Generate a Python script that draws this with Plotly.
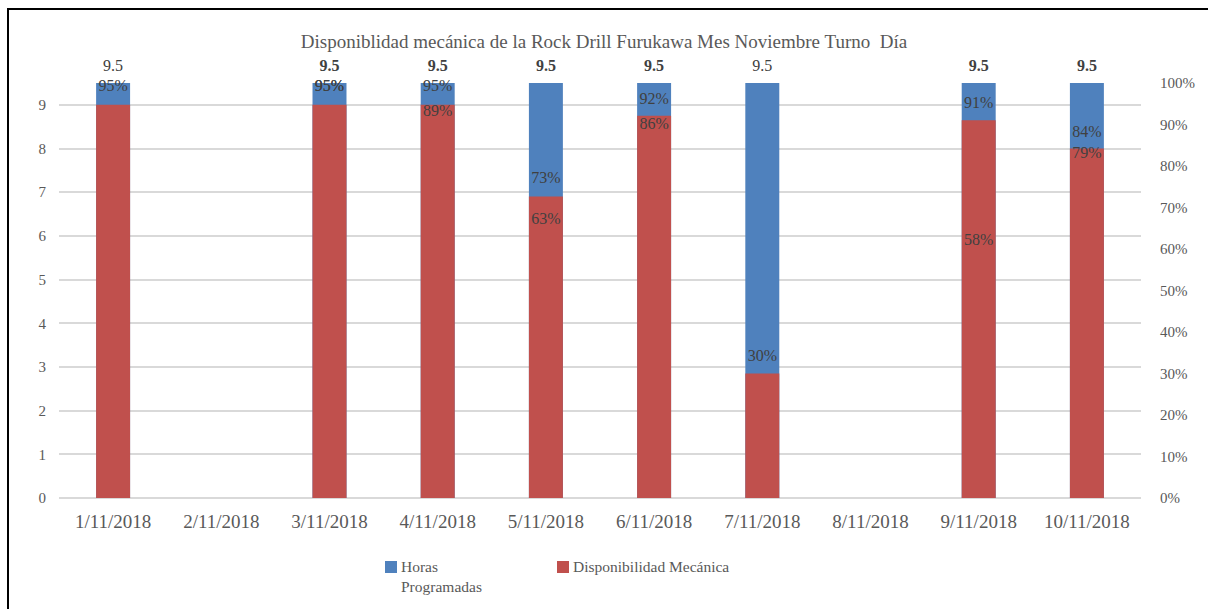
import plotly.graph_objects as go

# --- data ---------------------------------------------------------------
fechas = ["1/11/2018", "2/11/2018", "3/11/2018", "4/11/2018", "5/11/2018",
          "6/11/2018", "7/11/2018", "8/11/2018", "9/11/2018", "10/11/2018"]
horas_programadas = [9.5, None, 9.5, 9.5, 9.5, 9.5, 9.5, None, 9.5, 9.5]
disp_mecanica_horas = [9.0, None, 9.0, 9.0, 6.9, 8.75, 2.85, None, 8.65, 8.0]
pct_disponibilidad = [0.95, None, 0.95, 0.95, 0.73, 0.92, 0.30, None, 0.91, 0.84]
pct_utilizacion = [None, None, 0.95, 0.89, 0.63, 0.86, None, None, 0.58, 0.79]
series_names = ["Horas<br>Programadas", "Disponibilidad Mecánica"]

BLUE = "#4f81bd"
RED = "#c0504d"
GRID = "#d9d9d9"
AXIS_TXT = "#595959"
LABEL_TXT = "#404040"
FONT = "Liberation Serif"

# plot area in pixels
W, H = 1208, 609
ML, MR, MT, MB = 59, 67, 83, 111
PW, PH = W - ML - MR, H - MT - MB


def px_x(x):
    return (x - ML) / PW


def px_y(y):
    return (H - MB - y) / PH


def pct_text(v):
    return "" if v is None else f"{round(v * 100)}%"


fig = go.Figure()

fig.add_trace(go.Bar(
    x=fechas, y=horas_programadas, name=series_names[0],
    marker=dict(color=BLUE, line=dict(width=0)), width=0.314,
    hoverinfo="skip", showlegend=False,
))
fig.add_trace(go.Bar(
    x=fechas, y=disp_mecanica_horas, name=series_names[1],
    marker=dict(color=RED, line=dict(width=0)), width=0.314,
    hoverinfo="skip", showlegend=False,
))

# value labels above the scheduled-hours bars (bold where a second series overlaps)
hp_text = []
for h, p2 in zip(horas_programadas, pct_utilizacion):
    if h is None:
        hp_text.append("")
    elif p2 is not None:
        hp_text.append(f"<b>{h}</b>")
    else:
        hp_text.append(f"{h}")
fig.add_trace(go.Scatter(
    x=fechas, y=horas_programadas, mode="markers+text", text=hp_text,
    textposition="top center", marker=dict(size=12, opacity=0),
    textfont=dict(family=FONT, size=16, color=LABEL_TXT),
    showlegend=False, hoverinfo="skip", cliponaxis=False,
))

# percentage labels on the secondary axis
for serie in (pct_disponibilidad, pct_utilizacion):
    fig.add_trace(go.Scatter(
        x=fechas, y=serie, yaxis="y2", mode="markers+text",
        text=[pct_text(v) for v in serie],
        textposition="top center", marker=dict(size=12, opacity=0),
        textfont=dict(family=FONT, size=16, color=LABEL_TXT),
        showlegend=False, hoverinfo="skip", cliponaxis=False,
    ))

# legend drawn as swatches + text below the plot
legend_items = [(series_names[0], BLUE, 385), (series_names[1], RED, 557)]
shapes = []
annotations = []
for name, color, x0 in legend_items:
    shapes.append(dict(type="rect", xref="paper", yref="paper",
                       x0=px_x(x0), x1=px_x(x0 + 12), y0=px_y(561), y1=px_y(573),
                       fillcolor=color, line=dict(width=0)))
    annotations.append(dict(xref="paper", yref="paper", x=px_x(x0 + 14), y=px_y(556),
                            xanchor="left", yanchor="top", align="left",
                            text=name, showarrow=False,
                            font=dict(family=FONT, size=15.5, color=AXIS_TXT)))

# frame lines (top and left)
shapes += [
    dict(type="line", xref="paper", yref="paper",
         x0=px_x(8), x1=px_x(8), y0=px_y(8), y1=px_y(H + 2),
         line=dict(color="black", width=2)),
    dict(type="line", xref="paper", yref="paper",
         x0=px_x(7), x1=px_x(W + 2), y0=px_y(9), y1=px_y(9),
         line=dict(color="black", width=2)),
]

fig.update_layout(
    width=W, height=H,
    margin=dict(l=ML, r=MR, t=MT, b=MB, autoexpand=False),
    paper_bgcolor="white", plot_bgcolor="white",
    barmode="overlay", showlegend=False,
    font=dict(family=FONT, size=16, color=AXIS_TXT),
    title=dict(
        text="Disponiblidad mecánica de la Rock Drill Furukawa Mes Noviembre Turno&nbsp; Día",
        x=0.5, xanchor="center", y=1 - 41 / H, yanchor="middle",
        font=dict(family=FONT, size=19, color=AXIS_TXT),
    ),
    xaxis=dict(
        type="category", range=[-0.5, 9.5], showgrid=False, showline=False, ticks="",
        tickfont=dict(family=FONT, size=19, color=AXIS_TXT),
        ticklabelstandoff=10,
    ),
    yaxis=dict(
        range=[0, 9.5], dtick=1, tick0=0, showgrid=True, gridcolor=GRID,
        gridwidth=1.5, zeroline=True, zerolinecolor=GRID, zerolinewidth=1.5,
        showline=False, ticks="",
        tickfont=dict(family=FONT, size=15, color=AXIS_TXT),
        ticklabelstandoff=12,
    ),
    yaxis2=dict(
        range=[0, 1], dtick=0.1, tick0=0, tickformat=".0%", overlaying="y",
        side="right", showgrid=False, zeroline=False, showline=False,
        ticks="", tickfont=dict(family=FONT, size=15, color=AXIS_TXT),
        ticklabelstandoff=18,
    ),
    shapes=shapes,
    annotations=annotations,
)

fig.write_html("out.html")
